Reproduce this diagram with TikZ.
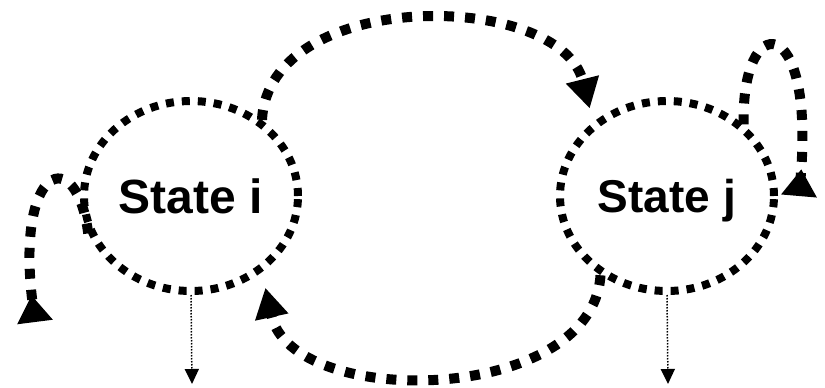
\documentclass[tikz,border=0pt]{standalone}
\usepackage{fontspec}
\setmainfont{Liberation Sans}
\usetikzlibrary{arrows.meta,shapes.geometric}

\begin{document}
\begin{tikzpicture}[x=1pt,y=-1pt,
    state/.style={ellipse, draw, line width=8pt, dash pattern=on 8pt off 8pt,
      minimum width=214pt, minimum height=190pt, inner sep=0pt, text depth=0pt,
      font=\bfseries\fontsize{48}{48}\selectfont},
    bigArc/.style={line width=10pt, dash pattern=on 10pt off 11pt,
      -{Triangle[width=32pt,length=30pt]}},
    selfLoop/.style={line width=10pt, dash pattern=on 10pt off 11pt,
      -{Triangle[reversed,width=34pt,length=27pt]}},
    outArrow/.style={line width=1.5pt, dash pattern=on 1.5pt off 1.5pt,
      -{Triangle[width=14pt,length=15pt]}}]
  \useasboundingbox (0,0) rectangle (825,388);
  \node[state] (si) at (191,196) {State i};
  \node[state, font=\bfseries\fontsize{46}{46}\selectfont] (sj) at (667,196) {State j};
  \coordinate (loopi) at (35,322);
  \coordinate (loopj) at (799,196);
  \coordinate (outi) at (192,384);
  \coordinate (outj) at (668,384);
  \draw[bigArc, shorten >=14pt] (si.47) .. controls +(7,-133) and +(-33,-132) .. (sj.135);
  \draw[bigArc, shorten >=16pt] (sj.230) .. controls +(-8,130) and +(30,138) .. (si.313);
  \draw[selfLoop] (si.200) .. controls +(-12,-92) and +(-20,-157) .. (loopi);
  \draw[selfLoop] (sj.43) .. controls +(-3,-115) and +(16,-186) .. (loopj);
  \draw[outArrow] (si.south) -- (outi);
  \draw[outArrow] (sj.south) -- (outj);
\end{tikzpicture}
\end{document}
